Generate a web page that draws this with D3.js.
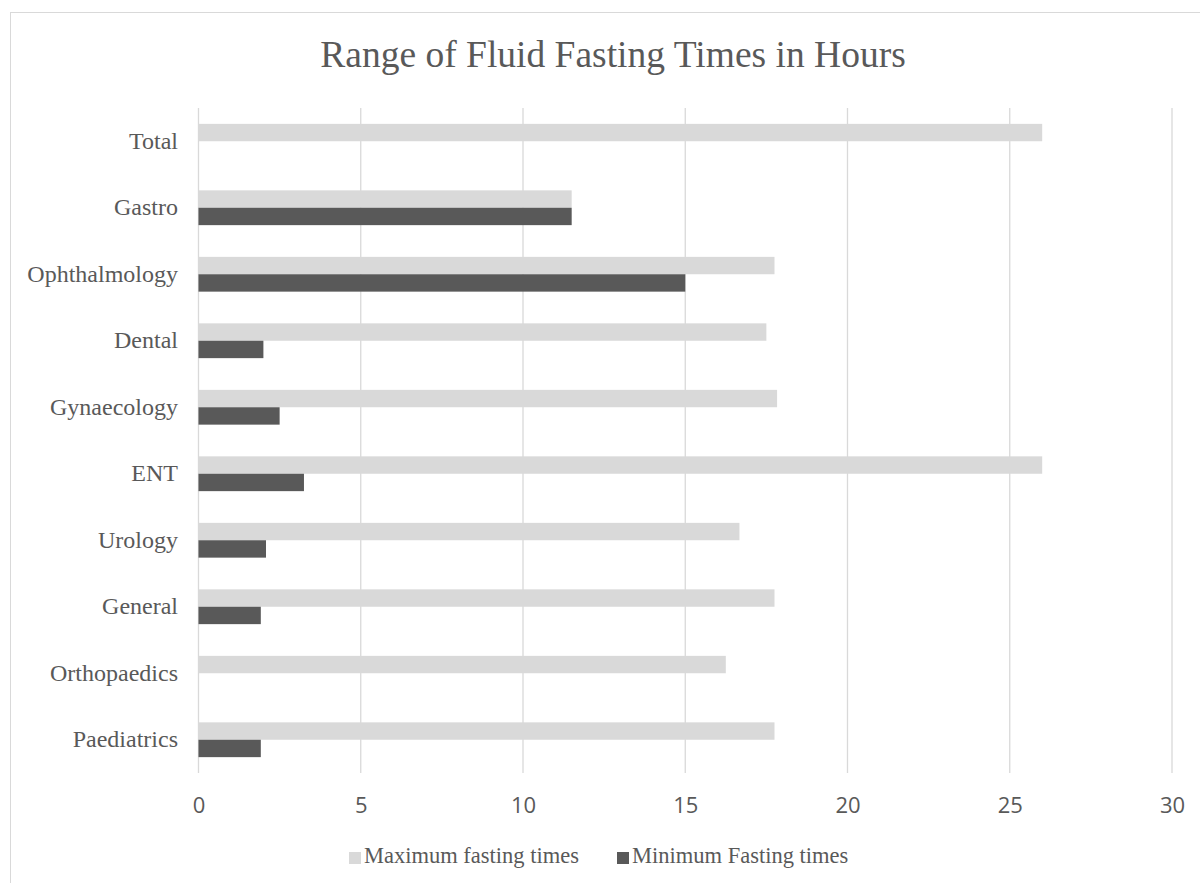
<!DOCTYPE html>
<html>
<head>
<meta charset="utf-8">
<script src="https://cdn.jsdelivr.net/npm/d3@7"></script>
<style>
  html, body { margin: 0; padding: 0; background: #fff; }
  svg { display: block; }
</style>
</head>
<body>
<svg id="chart" width="1200" height="883"></svg>
<script>
const categories = ["Total", "Gastro", "Ophthalmology", "Dental", "Gynaecology", "ENT", "Urology", "General", "Orthopaedics", "Paediatrics"];
const maxFasting = [26, 11.5, 17.75, 17.5, 17.83, 26, 16.67, 17.75, 16.25, 17.75];
const minFasting = [null, 11.5, 15, 2, 2.5, 3.25, 2.08, 1.92, null, 1.92];
const seriesNames = ["Maximum fasting times", "Minimum Fasting times"];
const seriesColors = ["#d9d9d9", "#595959"];
const xTicks = [0, 5, 10, 15, 20, 25, 30];
const titleText = "Range of Fluid Fasting Times in Hours";

const svg = d3.select("#chart");
const margin = { left: 198.5, right: 1172, top: 108, bottom: 773 };

// chart frame
svg.append("rect")
  .attr("x", 10.5).attr("y", 12.5)
  .attr("width", 1200).attr("height", 900)
  .attr("fill", "#fff").attr("stroke", "#d9d9d9").attr("stroke-width", 1);

const x = d3.scaleLinear().domain([0, 30]).range([margin.left, margin.right]);
const y = d3.scaleBand().domain(categories).range([margin.top, margin.bottom])
  .paddingInner(0.477).paddingOuter(0.2385);
const sub = d3.scaleBand().domain([0, 1]).range([0, y.bandwidth()]);

// gridlines
svg.append("g").selectAll("line").data(xTicks).join("line")
  .attr("x1", d => x(d)).attr("x2", d => x(d))
  .attr("y1", margin.top).attr("y2", margin.bottom)
  .attr("stroke", "#d9d9d9").attr("stroke-width", 1.3);

// bars
const series = [maxFasting, minFasting];
series.forEach((vals, si) => {
  svg.append("g").selectAll("rect")
    .data(categories.map((c, i) => ({ c, v: vals[i] })).filter(d => d.v != null))
    .join("rect")
    .attr("x", x(0))
    .attr("y", d => y(d.c) + sub(si))
    .attr("width", d => x(d.v) - x(0))
    .attr("height", sub.bandwidth())
    .attr("fill", seriesColors[si]);
});

// x axis labels
const xAxis = d3.axisBottom(x).tickValues(xTicks).tickSize(0).tickPadding(0);
const gx = svg.append("g").attr("transform", `translate(0, ${margin.bottom})`).call(xAxis);
gx.select(".domain").remove();
gx.attr("font-size", null).attr("font-family", null);
gx.selectAll("text")
  .attr("dy", null)
  .attr("y", 40)
  .style("font-family", "'Open Sans', sans-serif")
  .style("font-size", "22px")
  .attr("fill", "#595959");

// y axis labels
const yAxis = d3.axisLeft(y).tickSize(0).tickPadding(0);
const gy = svg.append("g").attr("transform", `translate(178, 0)`).call(yAxis);
gy.select(".domain").remove();
gy.attr("font-size", null).attr("font-family", null);
gy.selectAll("text")
  .style("font-family", "'Liberation Serif', 'Times New Roman', serif")
  .style("font-size", "24px")
  .attr("fill", "#595959")
  .attr("dy", "0.32em");

// title
svg.append("text")
  .attr("x", 613).attr("y", 67)
  .attr("text-anchor", "middle")
  .style("font-family", "'Liberation Serif', 'Times New Roman', serif")
  .style("font-size", "37.5px")
  .attr("fill", "#595959")
  .text(titleText);

// legend
const legendX = [349, 617];
const lg = svg.append("g");
seriesNames.forEach((name, i) => {
  lg.append("rect")
    .attr("x", legendX[i]).attr("y", 852)
    .attr("width", 12).attr("height", 12)
    .attr("fill", seriesColors[i]);
  lg.append("text")
    .attr("x", legendX[i] + 15).attr("y", 863)
    .style("font-family", "'Liberation Serif', 'Times New Roman', serif")
    .style("font-size", "22.5px")
    .attr("fill", "#595959")
    .text(name);
});
</script>
</body>
</html>
